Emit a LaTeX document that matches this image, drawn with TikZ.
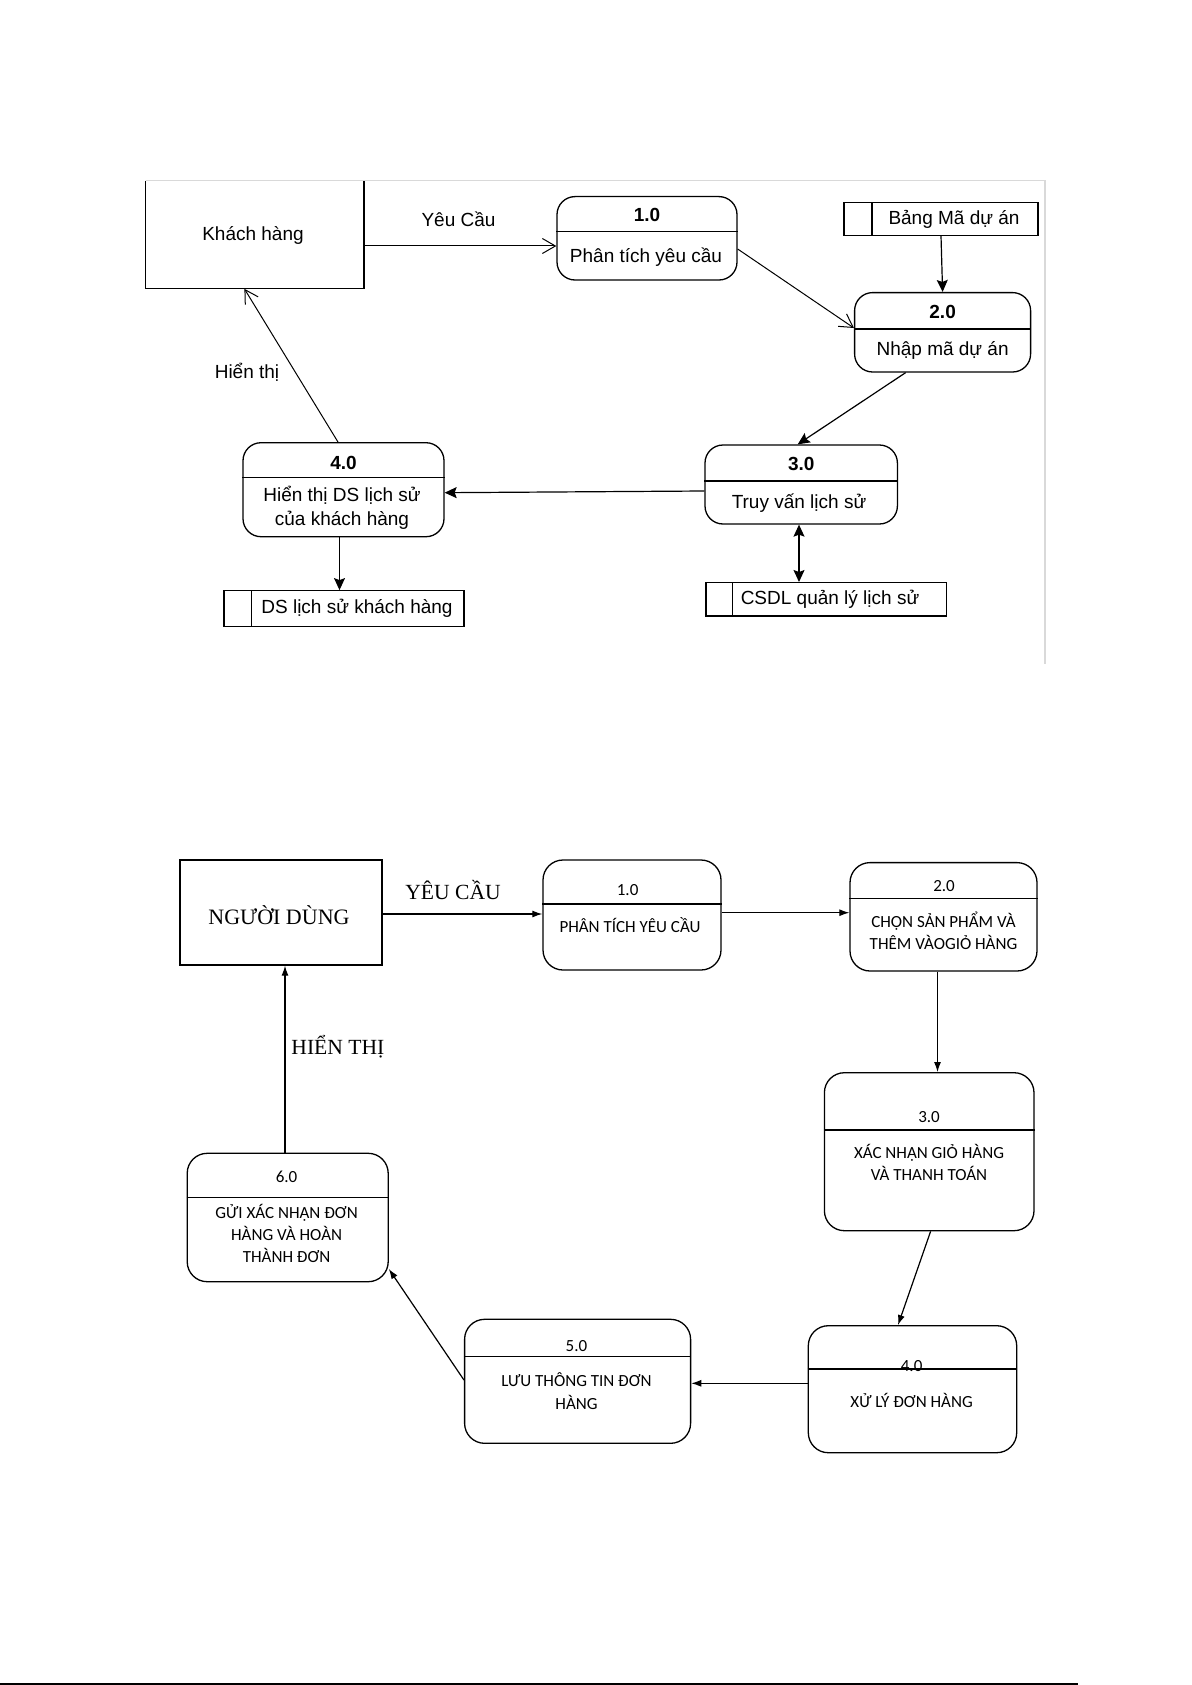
\documentclass[tikz,border=0pt]{standalone}
\usepackage{fontspec}
\setmainfont{Liberation Sans}
\newfontfamily\timesvn{Liberation Serif}
\newfontfamily\carlito{Carlito}
\usetikzlibrary{arrows.meta,calc}

\begin{document}
\begin{tikzpicture}[x=0.5pt,y=-0.5pt,
    proc/.style={draw,rounded corners=9pt,inner sep=0pt,line width=0.65pt},
    bproc/.style={draw,rounded corners=10pt,inner sep=0pt,line width=0.65pt},
    store/.style={draw,inner sep=0pt,line width=0.6pt},
    txt/.style={inner sep=0pt,align=center,font=\fontsize{9.5}{12}\selectfont},
    num/.style={inner sep=0pt,font=\fontsize{9.5}{12}\selectfont\bfseries},
    btxt/.style={inner sep=0pt,align=center,font=\carlito\fontsize{8.5}{11.2}\selectfont},
    lbl/.style={inner sep=0pt,font=\timesvn\fontsize{10.8}{13}\selectfont},
    flow/.style={-{Stealth[length=6pt,width=5.5pt,inset=1pt]},line width=0.6pt},
    dflow/.style={{Stealth[length=6pt,width=5.5pt,inset=1pt]}-{Stealth[length=6pt,width=5.5pt,inset=1pt]},line width=0.6pt},
    oflow/.style={-{Straight Barb[length=6.5pt,width=7.5pt]},line width=0.5pt},
    bflow/.style={-{Latex[length=5pt,width=3.5pt]},line width=0.6pt}]
      \useasboundingbox (0,0) rectangle (1192,1685);

      \coordinate (kh) at (254.7,234.7);
      \coordinate (a) at (647,238.3);
      \coordinate (b) at (942.6,332.3);
      \coordinate (c) at (801.2,484.5);
      \coordinate (d) at (343.5,489.7);

      % top diagram
      \draw[gray!30,line width=0.6pt] (146,180.7) -- (1045,180.7) -- (1045,664);

      \node[inner sep=0pt,minimum width=108.9pt,minimum height=53.7pt] (khc) at (kh) {};
      \draw[line width=0.65pt] (khc.north west) -- (khc.south west) -- (khc.south east) -- (khc.north east);
      \node[txt] (kht) at (253,235) {Khách hàng};

      \node[proc,minimum width=90pt,minimum height=41.7pt] (ac) at (a) {};
      \draw[line width=0.65pt] (ac.west |- 0,231.7) -- (ac.east |- 0,231.7);
      \node[num] (an) at (647,215) {1.0};
      \node[txt] (at) at (646,256.7) {Phân tích yêu cầu};

      \node[proc,minimum width=88pt,minimum height=39.7pt] (bc) at (b) {};
      \draw[line width=0.65pt] (bc.west |- 0,329) -- (bc.east |- 0,329);
      \node[num] (bn) at (942.6,311.7) {2.0};
      \node[txt] (bt) at (942.6,350.7) {Nhập mã dự án};

      \node[proc,minimum width=96.2pt,minimum height=39.5pt] (cc) at (c) {};
      \draw[line width=0.65pt] (cc.west |- 0,481) -- (cc.east |- 0,481);
      \node[num] (cn) at (801.2,464) {3.0};
      \node[txt] (ct) at (799,503.3) {Truy vấn lịch sử};

      \node[proc,minimum width=100.5pt,minimum height=47pt] (dc) at (d) {};
      \draw[line width=0.65pt] (dc.west |- 0,477.7) -- (dc.east |- 0,477.7);
      \node[num] (dn) at (343.5,463) {4.0};
      \node[txt] (dt) at (342,508) {Hiển thị DS lịch sử\\của khách hàng};

      \node[store,minimum width=97pt,minimum height=16.3pt] (ma) at (941,219) {};
      \draw[line width=0.6pt] (ma.north -| 872,0) -- (ma.south -| 872,0);
      \node[txt] (mat) at (954,219) {Bảng Mã dự án};

      \node[store,minimum width=120pt,minimum height=18pt] (ds) at (344,608.7) {};
      \draw[line width=0.6pt] (ds.north -| 251.4,0) -- (ds.south -| 251.4,0);
      \node[txt] (dst) at (357,608.7) {DS lịch sử khách hàng};

      \node[store,minimum width=120.3pt,minimum height=16.7pt] (db) at (826.3,599.3) {};
      \draw[line width=0.6pt] (db.north -| 732.5,0) -- (db.south -| 732.5,0);
      \node[txt] (dbt) at (830,599.3) {CSDL quản lý lịch sử};

      \draw[oflow] (khc.east |- 0,246) -- (ac.west |- 0,246);
      \node[txt] (yc) at (458.5,219) {Yêu Cầu};
      \draw[oflow] (ac.east |- 0,249) -- (bc.west |- 0,328);
      \draw[flow] (ma.south) -- (bc.north);
      \draw[flow] (bc.south -| 905.6,0) -- (cc.north -| 797.7,0);
      \draw[flow] (cc.west |- 0,491) -- (dc.east |- 0,492.7);
      \draw[oflow] (dc.north -| 338,0) -- (khc.south -| 244.4,0);
      \node[txt] (ht) at (247,372.7) {Hiển thị};
      \draw[flow] (dc.south -| 339.5,0) -- (ds.north -| 339.5,0);
      \draw[dflow] (cc.south -| 799,0) -- (db.north -| 799,0);

      % bottom diagram
      \coordinate (u) at (280.9,912.5);
      \coordinate (p) at (632,915);
      \coordinate (q) at (943.5,916.8);
      \coordinate (r) at (929.2,1151.7);
      \coordinate (s) at (912.5,1389.2);
      \coordinate (t) at (577.6,1381.3);
      \coordinate (v) at (287.7,1217.5);

      \node[draw,inner sep=0pt,line width=0.65pt,minimum width=101pt,minimum height=52.5pt] (uc) at (u) {};
      \node[inner sep=0pt,font=\timesvn\fontsize{11}{13}\selectfont] (ut) at (279,915) {NGƯỜI DÙNG};

      \node[bproc,minimum width=89pt,minimum height=55pt] (pc) at (p) {};
      \draw[line width=0.65pt] (pc.west |- 0,904) -- (pc.east |- 0,904);
      \node[btxt] (pn) at (627.6,890) {1.0};
      \node[btxt] (pt) at (630,925) {PHÂN TÍCH YÊU CẦU};

      \node[bproc,minimum width=93.5pt,minimum height=54.2pt] (qc) at (q) {};
      \draw[line width=0.65pt] (qc.west |- 0,898.3) -- (qc.east |- 0,898.3);
      \node[btxt] (qn) at (944,886) {2.0};
      \node[btxt] (qt) at (943.5,931) {CHỌN SẢN PHẨM VÀ\\THÊM VÀOGIỎ HÀNG};

      \node[bproc,minimum width=104.8pt,minimum height=79pt] (rc) at (r) {};
      \draw[line width=0.65pt] (rc.west |- 0,1130) -- (rc.east |- 0,1130);
      \node[btxt] (rn) at (929,1116.7) {3.0};
      \node[btxt] (rt) at (929,1162.5) {XÁC NHẬN GIỎ HÀNG\\VÀ THANH TOÁN};

      \node[bproc,minimum width=104.2pt,minimum height=63.5pt] (sc) at (s) {};
      \node[btxt] (sn) at (911.6,1365.7) {4.0};
      \draw[line width=0.65pt] (sc.west |- 0,1369) -- (sc.east |- 0,1369);
      \node[btxt] (st) at (911.6,1400) {XỬ LÝ ĐƠN HÀNG};

      \node[bproc,minimum width=113pt,minimum height=62pt] (tc) at (t) {};
      \draw[line width=0.65pt] (tc.west |- 0,1356.5) -- (tc.east |- 0,1356.5);
      \node[btxt] (tn) at (576.5,1345.7) {5.0};
      \node[btxt] (tt) at (576.5,1391) {LƯU THÔNG TIN ĐƠN\\HÀNG};

      \node[bproc,minimum width=100.5pt,minimum height=64.2pt] (vc) at (v) {};
      \draw[line width=0.65pt] (vc.west |- 0,1197.3) -- (vc.east |- 0,1197.3);
      \node[btxt] (vn) at (286.6,1176.7) {6.0};
      \node[btxt] (vt) at (286.6,1233.5) {GỬI XÁC NHẬN ĐƠN\\HÀNG VÀ HOÀN\\THÀNH ĐƠN};

      \draw[bflow] (uc.east |- 0,914) -- (pc.west |- 0,914);
      \node[lbl] (yc2) at (453,890) {YÊU CẦU};
      \draw[bflow] (pc.east |- 0,912.7) -- (qc.west |- 0,912.7);
      \draw[bflow] (qc.south -| 937.5,0) -- (rc.north -| 937.5,0);
      \draw[bflow] (rc.south -| 930.6,0) -- (sc.north -| 898,0);
      \draw[bflow] (sc.west |- 0,1383.3) -- (tc.east |- 0,1383.3);
      \draw[bflow] (tc.west |- 0,1380) -- (vc.east |- 0,1269);
      \draw[bflow] (vc.north -| 285,0) -- (uc.south -| 285,0);
      \node[lbl,anchor=west] (ht2) at (291,1046.7) {HIỂN THỊ};

      \draw[line width=0.9pt] (0,1684) -- (1078,1684);
\end{tikzpicture}
\end{document}
